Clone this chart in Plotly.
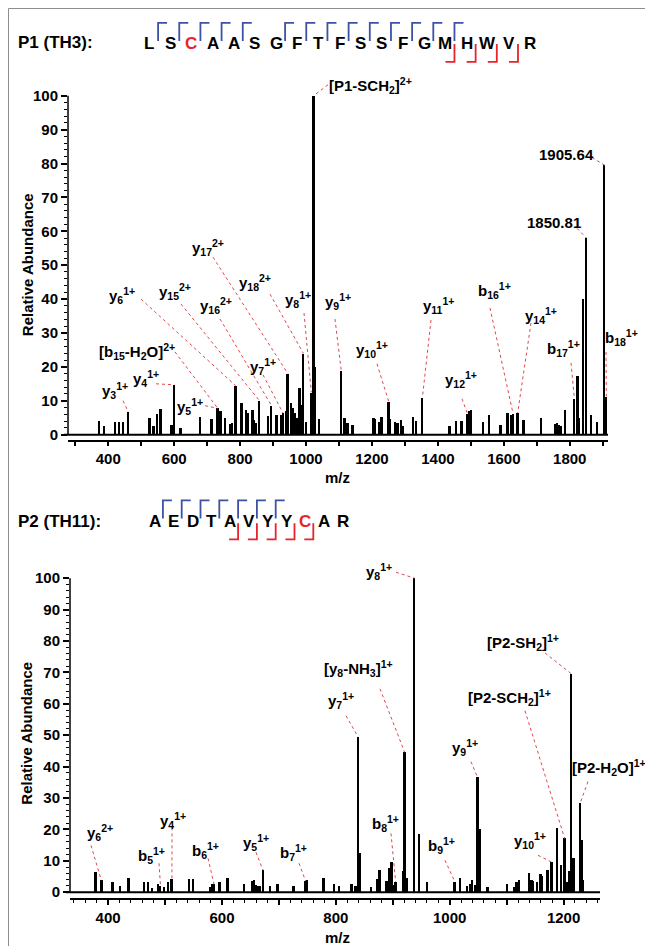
import plotly.graph_objects as go

W, H = 653, 946

# ---------------- data ----------------
p1_mz = [372, 387, 422, 433, 445, 461, 526, 538, 548, 559, 593, 600, 620, 680, 714, 732, 741, 754,
         771, 777, 787, 805, 818, 823, 838, 843, 848, 859, 885, 895, 911, 925, 930, 939, 945, 956,
         960, 967, 973, 981, 986, 992, 1000, 1016, 1023, 1026, 1040, 1107, 1115, 1120, 1127, 1142,
         1205, 1211, 1223, 1230, 1251, 1256, 1271, 1278, 1288, 1293, 1326, 1335, 1353, 1436, 1455,
         1472, 1490, 1497, 1502, 1537, 1556, 1591, 1612, 1624, 1628, 1642, 1660, 1713, 1756, 1763,
         1768, 1775, 1786, 1814, 1824, 1829, 1840, 1850.81, 1866, 1884, 1905.64, 1911]
p1_int = [4.1, 2.5, 3.8, 3.8, 3.8, 6.7, 4.9, 2.5, 6.3, 7.5, 3.0, 14.7, 2.0, 5.2, 4.8, 7.8, 7.0, 5.1,
          3.2, 3.6, 14.4, 9.4, 7.3, 6.5, 7.3, 4.3, 3.6, 10.0, 5.5, 8.6, 5.9, 6.0, 6.4, 7.1, 18.0, 9.3,
          8.0, 6.6, 5.0, 13.9, 8.7, 24.0, 3.8, 12.5, 100.0, 20.0, 4.8, 18.7, 5.0, 5.0, 3.4, 2.8,
          5.0, 4.6, 3.8, 5.4, 9.7, 4.6, 3.8, 3.4, 4.3, 2.6, 5.4, 4.0, 10.9, 2.5, 4.0,
          4.0, 6.1, 7.0, 7.2, 3.7, 5.8, 2.8, 6.4, 5.8, 6.2, 6.4, 4.5, 5.0, 3.3, 3.4,
          3.0, 2.6, 7.2, 10.7, 17.3, 5.0, 40.0, 58.0, 6.0, 3.8, 79.5, 11.3]

p2_mz = [378, 388, 390, 408, 421, 436, 463, 470, 477, 488, 492, 498, 506, 512, 543, 550, 580, 583,
         586, 596, 610, 639, 653, 657, 660, 663, 667, 672, 685, 698, 726, 747, 750, 779, 797, 806,
         828, 835, 839, 842, 862, 873, 877, 888, 892, 894, 898, 902, 905, 919, 921, 926, 938, 947,
         960, 1009, 1018, 1031, 1036, 1040, 1045, 1049, 1053, 1067, 1101, 1114, 1118, 1122, 1140,
         1144, 1147, 1154, 1160, 1162, 1172, 1179, 1189, 1196, 1202, 1207, 1211, 1214, 1218, 1229,
         1232, 1235]
p2_int = [6.4, 3.8, 3.8, 3.3, 2.0, 4.5, 3.3, 3.1, 1.4, 2.4, 1.9, 1.7, 3.3, 4.0, 4.0, 4.0, 1.7, 2.4,
          2.5, 3.3, 4.3, 2.5, 3.5, 3.8, 2.2, 2.0, 2.0, 7.0, 2.0, 2.5, 1.9, 3.5, 3.8, 4.3, 2.5, 1.9,
          2.4, 2.0, 49.5, 12.4, 1.6, 4.0, 7.0, 3.6, 3.6, 7.6, 9.4, 2.2, 3.3, 6.7, 44.5, 4.3, 100.0, 18.4,
          3.1, 3.3, 4.3, 1.9, 2.4, 3.8, 2.2, 36.5, 20.0, 1.5, 2.4, 1.7, 3.3, 3.8, 5.9,
          3.8, 3.5, 3.3, 5.6, 5.2, 7.0, 9.6, 20.3, 8.6, 17.1, 3.3, 6.7, 69.5, 10.8, 28.3,
          16.5, 3.8]

p1_seq = list("LSCAASGFTFSSFGMHWVR")
p1_b_sites = [1, 2, 3, 4, 5, 7, 8, 9, 10, 11, 12, 13, 14, 15]
p1_y_sites = [15, 16, 17, 18]
p1_red = [2]
p2_seq = list("AEDTAVYYCAR")
p2_b_sites = [1, 2, 3, 4, 5, 6, 7]
p2_y_sites = [5, 6, 7, 8, 9]
p2_red = [8]

p1_ticks = list(range(300, 2000, 100))
p1_ticktext = [str(v) if v % 200 == 0 else "" for v in p1_ticks]
p2_ticks = list(range(400, 1300, 100))
p2_ticktext = [str(v) if v % 200 == 0 else "" for v in p2_ticks]
y_ticks = list(range(0, 101, 10))


def ion(name, n, z):
    return f"<b>{name}<sub>{n}</sub><sup>{z}</sup></b>"


# labels: text, peak m/z it points at
p1_labels = [
    ("<b>[P1-SCH<sub>2</sub>]<sup>2+</sup></b>", 1023),
    ("<b>1905.64</b>", 1905.64),
    ("<b>1850.81</b>", 1850.81),
    (ion("y", 17, "2+"), 945),
    (ion("y", 18, "2+"), 992),
    (ion("y", 6, "1+"), 787),
    (ion("y", 15, "2+"), 859),
    (ion("y", 16, "2+"), 895),
    (ion("y", 8, "1+"), 1016),
    (ion("y", 9, "1+"), 1107),
    ("<b>[b<sub>15</sub>-H<sub>2</sub>O]<sup>2+</sup></b>", 732),
    (ion("y", 7, "1+"), 930),
    (ion("y", 4, "1+"), 600),
    (ion("y", 3, "1+"), 461),
    (ion("y", 5, "1+"), 732),
    (ion("y", 10, "1+"), 1251),
    (ion("y", 11, "1+"), 1353),
    (ion("b", 16, "1+"), 1628),
    (ion("y", 14, "1+"), 1642),
    (ion("y", 12, "1+"), 1490),
    (ion("b", 17, "1+"), 1814),
    (ion("b", 18, "1+"), 1911),
]
p2_labels = [
    (ion("y", 8, "1+"), 938),
    ("<b>[y<sub>8</sub>-NH<sub>3</sub>]<sup>1+</sup></b>", 921),
    (ion("y", 7, "1+"), 839),
    (ion("y", 9, "1+"), 1049),
    ("<b>[P2-SH<sub>2</sub>]<sup>1+</sup></b>", 1214),
    ("<b>[P2-SCH<sub>2</sub>]<sup>1+</sup></b>", 1202),
    ("<b>[P2-H<sub>2</sub>O]<sup>1+</sup></b>", 1229),
    (ion("y", 10, "1+"), 1179),
    (ion("b", 9, "1+"), 1009),
    (ion("b", 8, "1+"), 905),
    (ion("b", 7, "1+"), 747),
    (ion("y", 5, "1+"), 672),
    (ion("b", 6, "1+"), 586),
    (ion("y", 4, "1+"), 512),
    (ion("b", 5, "1+"), 492),
    (ion("y", 6, "2+"), 388),
]

# ---------------- layout (pixel positions) ----------------
# label centre (px) and leader start (px)
p1_label_pos = [(362, 78, 320, 77), (558, 147, 584, 150), (546, 215, 569, 221),
                (200, 240, 205, 250), (247, 275, 262, 287), (114, 288, 133, 292),
                (167, 284, 173, 297), (208, 298, 212, 312), (290, 292, 296, 306),
                (330, 294, 327, 312), (129, 345, 167, 345), (255, 360, 255, 368),
                (138, 372, 148, 377), (107, 384, 115, 394), (182, 400, 197, 399),
                (364, 343, 369, 357), (430, 298, 423, 313), (486, 283, 482, 301),
                (533, 308, 523, 316), (453, 373, 454, 392), (555, 342, 563, 356),
                (613, 331, 598, 345)]
p2_label_pos = [(371, 565, 388, 566), (350, 663, 372, 683), (333, 695, 338, 710),
                (457, 742, 463, 756), (515, 637, 537, 647), (502, 692, 517, 705),
                (601, 762, 580, 776), (522, 835, 530, 850), (433, 840, 437, 855),
                (377, 818, 383, 828), (285, 847, 291, 858), (248, 837, 248, 847),
                (197, 845, 200, 853), (165, 815, 164, 822), (143, 850, 151, 858),
                (92, 827, 83, 840)]

# panel geometry: px left, right, top, bottom ; ranges
P1 = dict(l=60, r=600, t=70, b=433, xr=(278, 1916), yr=(-1.47, 105.3))
P2 = dict(l=62, r=592, t=555, b=893, xr=(333, 1264), yr=(-1.9, 105.4))

FONT = "Arial, Liberation Sans, sans-serif"
RED = "#e8232a"
BLUE = "#3f51a3"
LEAD = "#e0474c"


def px2data(g, px, py):
    x = g["xr"][0] + (px - g["l"]) / (g["r"] - g["l"]) * (g["xr"][1] - g["xr"][0])
    y = g["yr"][0] + (g["b"] - py) / (g["b"] - g["t"]) * (g["yr"][1] - g["yr"][0])
    return x, y


def note(text, px, py, size, color="black", angle=0):
    return dict(text=text, x=px / W, y=1 - py / H, xref="paper", yref="paper", showarrow=False,
                xanchor="center", yanchor="middle", textangle=angle,
                font=dict(family=FONT, size=size, color=color))


fig = go.Figure()
fig.add_trace(go.Bar(x=p1_mz, y=p1_int, width=5.5, marker=dict(color="black", line=dict(width=0)),
                     xaxis="x", yaxis="y", showlegend=False, hoverinfo="x+y"))
fig.add_trace(go.Bar(x=p2_mz, y=p2_int, width=3.2, marker=dict(color="black", line=dict(width=0)),
                     xaxis="x2", yaxis="y2", showlegend=False, hoverinfo="x+y"))

annotations = []
shapes = []


def add_labels(g, labels, pos, mzs, ints, xa, ya):
    lx, ly = [], []
    for (txt, mz), (cx, cy, sx, sy) in zip(labels, pos):
        i = min(range(len(mzs)), key=lambda k: abs(mzs[k] - mz))
        x0, y0 = px2data(g, sx, sy)
        lx += [x0, mzs[i], None]
        ly += [y0, ints[i], None]
        annotations.append(note(txt, cx, cy, 15))
    fig.add_trace(go.Scatter(x=lx, y=ly, mode="lines", xaxis=xa, yaxis=ya, showlegend=False,
                             line=dict(color=LEAD, width=1, dash="dot"), hoverinfo="skip"))


add_labels(P1, p1_labels, p1_label_pos, p1_mz, p1_int, "x", "y")
add_labels(P2, p2_labels, p2_label_pos, p2_mz, p2_int, "x2", "y2")

# axis decorations
for g, ya in ((P1, "y"), (P2, "y2")):
    shapes.append(dict(type="line", xref="paper", yref=ya, x0=g["l"] / W, x1=g["l"] / W,
                       y0=0, y1=100, line=dict(color="black", width=1.5)))
    shapes.append(dict(type="line", xref="paper", yref=ya, x0=(g["l"] - 4) / W, x1=g["r"] / W,
                       y0=0, y1=0, line=dict(color="black", width=2)))

# axis titles
for cy in (258, 728):
    annotations.append(note("<b>Relative Abundance</b>", 19, cy, 15, angle=-90))
for cy in (471, 932):
    annotations.append(note("<b>m/z</b>", 329, cy, 15))


# headers with peptide sequences
def header(title, tx, ty, seq, red, bsites, ysites, x0, dx, ly, btop, bbot, rtop, rbot):
    a = note(f"<b>{title}</b>", tx, ty, 17)
    a["xanchor"] = "left"
    annotations.append(a)
    for i, c in enumerate(seq):
        annotations.append(note(f"<b>{c}</b>", x0 + i * dx, ly, 17, RED if i in red else "black"))
    for s in bsites:
        xv = x0 + (s - 0.5) * dx - 1.5
        shapes.append(dict(type="path", xref="paper", yref="paper",
                           path=f"M {xv/W} {1-bbot/H} L {xv/W} {1-btop/H} L {(xv+9)/W} {1-btop/H}",
                           line=dict(color=BLUE, width=1.8)))
    for s in ysites:
        xv = x0 + (s - 0.5) * dx - 1.5
        shapes.append(dict(type="path", xref="paper", yref="paper",
                           path=f"M {xv/W} {1-rtop/H} L {xv/W} {1-rbot/H} L {(xv-9)/W} {1-rbot/H}",
                           line=dict(color=RED, width=1.8)))


header("P1 (TH3):", 8, 35, p1_seq, p1_red, p1_b_sites, p1_y_sites, 141, 21.17, 36, 15, 33, 36, 54)
header("P2 (TH11):", 8, 515, p2_seq, p2_red, p2_b_sites, p2_y_sites, 147, 18.8, 515, 494, 512, 517, 533)

# outer frame
shapes.append(dict(type="rect", xref="paper", yref="paper", x0=0.5 / W, x1=1 - 0.5 / W,
                   y0=0.5 / H, y1=1 - 0.5 / H, line=dict(color="#8c8c8c", width=1)))

tickfont = dict(family=FONT, size=15, color="black", weight="bold")


def xaxis(g, ticks, text, anchor):
    return dict(domain=[g["l"] / W, g["r"] / W], range=list(g["xr"]), anchor=anchor,
                showline=True, linecolor="black", linewidth=1.5, ticks="outside", ticklen=5,
                tickwidth=1.5, tickcolor="black", tickvals=ticks, ticktext=text,
                tickfont=dict(family=FONT, size=15, color="black", weight="bold"),
                showgrid=False, zeroline=False, fixedrange=True)


def yaxis(g, anchor):
    return dict(domain=[1 - g["b"] / H, 1 - g["t"] / H], range=list(g["yr"]), anchor=anchor,
                showline=False, ticks="outside", ticklen=6, tickwidth=1.5, tickcolor="black",
                tickvals=y_ticks, tickfont=tickfont, showgrid=False, zeroline=False,
                minor=dict(tickvals=[v for v in range(2, 101, 2) if v % 10], ticks="outside",
                           ticklen=3, tickwidth=1, tickcolor="black"),
                fixedrange=True)


x2 = xaxis(P2, p2_ticks, p2_ticktext, "y2")
x2["minor"] = dict(dtick=20, tick0=0, ticks="outside", ticklen=3, tickwidth=1, tickcolor="black")

fig.update_layout(
    width=W, height=H, margin=dict(l=0, r=0, t=0, b=0),
    paper_bgcolor="white", plot_bgcolor="white",
    xaxis=xaxis(P1, p1_ticks, p1_ticktext, "y"),
    yaxis=yaxis(P1, "x"),
    xaxis2=x2,
    yaxis2=yaxis(P2, "x2"),
    annotations=annotations, shapes=shapes, showlegend=False, bargap=0,
    font=dict(family=FONT, color="black"),
)

fig.write_html("out.html")
